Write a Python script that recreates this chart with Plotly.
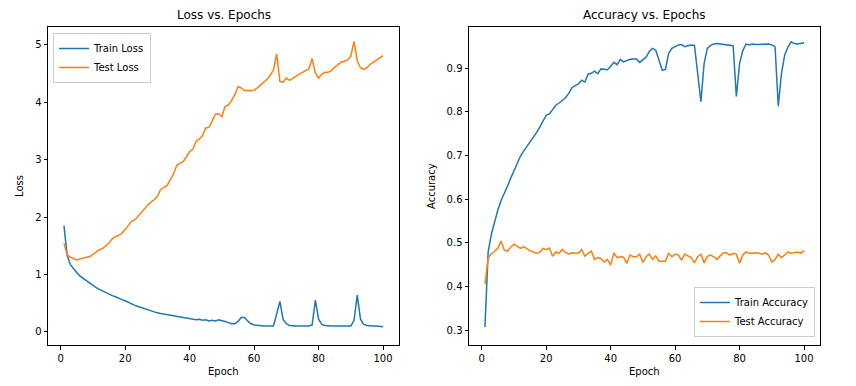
import plotly.graph_objects as go

epochs = list(range(1, 101))

train_loss = [1.85, 1.33, 1.17, 1.09, 1.03, 0.97, 0.93, 0.88, 0.84, 0.80,
              0.77, 0.74, 0.71, 0.69, 0.66, 0.63, 0.61, 0.58, 0.56, 0.54,
              0.51, 0.48, 0.46, 0.44, 0.42, 0.40, 0.38, 0.37, 0.35, 0.33,
              0.32, 0.31, 0.30, 0.29, 0.28, 0.27, 0.26, 0.25, 0.24, 0.23,
              0.23, 0.21, 0.22, 0.20, 0.21, 0.19, 0.20, 0.19, 0.21, 0.20,
              0.18, 0.16, 0.14, 0.14, 0.18, 0.25, 0.25, 0.19, 0.14, 0.12,
              0.11, 0.10, 0.10, 0.10, 0.10, 0.10, 0.31, 0.53, 0.21, 0.14,
              0.11, 0.10, 0.10, 0.10, 0.10, 0.10, 0.10, 0.12, 0.55, 0.22,
              0.13, 0.11, 0.10, 0.10, 0.10, 0.10, 0.10, 0.10, 0.10, 0.10,
              0.20, 0.64, 0.22, 0.13, 0.11, 0.10, 0.10, 0.10, 0.095, 0.09]

test_loss = [1.54, 1.34, 1.30, 1.27, 1.25, 1.27, 1.29, 1.30, 1.31, 1.35,
             1.40, 1.43, 1.45, 1.50, 1.55, 1.62, 1.66, 1.68, 1.72, 1.78,
             1.85, 1.93, 1.95, 2.02, 2.08, 2.15, 2.21, 2.26, 2.30, 2.36,
             2.48, 2.51, 2.55, 2.65, 2.75, 2.90, 2.93, 2.97, 3.05, 3.14,
             3.18, 3.32, 3.36, 3.42, 3.55, 3.56, 3.68, 3.79, 3.80, 3.75,
             3.93, 3.95, 4.03, 4.13, 4.27, 4.25, 4.20, 4.21, 4.20, 4.21,
             4.25, 4.30, 4.35, 4.40, 4.47, 4.56, 4.84, 4.36, 4.35, 4.42,
             4.38, 4.42, 4.46, 4.49, 4.52, 4.55, 4.58, 4.76, 4.51, 4.42,
             4.49, 4.52, 4.52, 4.55, 4.61, 4.65, 4.70, 4.71, 4.74, 4.80,
             5.06, 4.72, 4.60, 4.57, 4.60, 4.66, 4.70, 4.73, 4.77, 4.81]

train_acc = [0.307, 0.48, 0.52, 0.55, 0.575, 0.597, 0.612, 0.63, 0.648, 0.665,
             0.685, 0.698, 0.71, 0.72, 0.73, 0.742, 0.752, 0.765, 0.78, 0.792,
             0.795, 0.806, 0.815, 0.82, 0.827, 0.832, 0.842, 0.855, 0.86, 0.864,
             0.872, 0.868, 0.886, 0.888, 0.893, 0.887, 0.898, 0.897, 0.896, 0.904,
             0.913, 0.908, 0.92, 0.914, 0.917, 0.92, 0.921, 0.921, 0.913, 0.918,
             0.925, 0.938, 0.945, 0.941, 0.92, 0.895, 0.897, 0.934, 0.945, 0.95,
             0.953, 0.954, 0.949, 0.951, 0.953, 0.952, 0.89, 0.823, 0.911, 0.945,
             0.952, 0.955, 0.956, 0.955, 0.954, 0.953, 0.952, 0.951, 0.835, 0.911,
             0.94, 0.955, 0.953, 0.955, 0.954, 0.954, 0.955, 0.954, 0.955, 0.953,
             0.949, 0.813, 0.888, 0.93, 0.948, 0.96, 0.956, 0.955, 0.956, 0.958]

test_acc = [0.405, 0.465, 0.475, 0.48, 0.488, 0.504, 0.483, 0.481, 0.49, 0.497,
            0.492, 0.487, 0.491, 0.486, 0.482, 0.479, 0.476, 0.478, 0.487, 0.484,
            0.488, 0.469, 0.479, 0.476, 0.485, 0.478, 0.474, 0.477, 0.476, 0.476,
            0.485, 0.469, 0.476, 0.481, 0.462, 0.466, 0.464, 0.456, 0.462, 0.449,
            0.477, 0.466, 0.468, 0.467, 0.453, 0.472, 0.468, 0.468, 0.474, 0.455,
            0.468, 0.474, 0.462, 0.47, 0.458, 0.458, 0.458, 0.476, 0.468, 0.474,
            0.472, 0.46, 0.474, 0.47, 0.466, 0.454, 0.468, 0.474, 0.454, 0.469,
            0.472, 0.468, 0.462, 0.47, 0.477, 0.477, 0.472, 0.476, 0.474, 0.453,
            0.472, 0.479, 0.476, 0.476, 0.477, 0.476, 0.474, 0.477, 0.472, 0.456,
            0.462, 0.474, 0.466, 0.472, 0.479, 0.476, 0.478, 0.479, 0.476, 0.482]

x_ticks = [0, 20, 40, 60, 80, 100]
loss_ticks = [0, 1, 2, 3, 4, 5]
acc_ticks = [0.3, 0.4, 0.5, 0.6, 0.7, 0.8, 0.9]

BLUE = "#1f77b4"
ORANGE = "#ff7f0e"
W, H = 856, 386
FONT = "DejaVu Sans"

fig = go.Figure()
fig.add_trace(go.Scatter(x=epochs, y=train_loss, mode="lines", name="Train Loss",
                         line=dict(color=BLUE, width=1.5), xaxis="x", yaxis="y", legend="legend"))
fig.add_trace(go.Scatter(x=epochs, y=test_loss, mode="lines", name="Test Loss",
                         line=dict(color=ORANGE, width=1.5), xaxis="x", yaxis="y", legend="legend"))
fig.add_trace(go.Scatter(x=epochs, y=train_acc, mode="lines", name="Train Accuracy",
                         line=dict(color=BLUE, width=1.5), xaxis="x2", yaxis="y2", legend="legend2"))
fig.add_trace(go.Scatter(x=epochs, y=test_acc, mode="lines", name="Test Accuracy",
                         line=dict(color=ORANGE, width=1.5), xaxis="x2", yaxis="y2", legend="legend2"))

ydom = [1 - 345 / H, 1 - 27 / H]
axis_common = dict(showline=True, mirror=True, linecolor="black", linewidth=1,
                   ticks="outside", ticklen=3.5, tickwidth=1, tickcolor="black",
                   showgrid=False, zeroline=False,
                   tickfont=dict(family=FONT, size=10, color="black"))


def label(text, x, y, size=10, angle=0):
    return dict(text=text, x=x / W, y=1 - y / H, xref="paper", yref="paper",
                xanchor="center", yanchor="middle", textangle=angle, showarrow=False,
                font=dict(family=FONT, size=size, color="black"))


fig.update_layout(
    width=W, height=H,
    margin=dict(l=0, r=0, t=0, b=0),
    paper_bgcolor="white", plot_bgcolor="white",
    font=dict(family=FONT, size=10, color="black"),
    xaxis=dict(domain=[48 / W, 399 / W], range=[-3.95, 104.95], tickvals=x_ticks,
               anchor="y", **axis_common),
    yaxis=dict(domain=ydom, range=[-0.23, 5.31], tickvals=loss_ticks,
               anchor="x", **axis_common),
    xaxis2=dict(domain=[469 / W, 820 / W], range=[-3.95, 104.95], tickvals=x_ticks,
                anchor="y2", **axis_common),
    yaxis2=dict(domain=ydom, range=[0.266, 0.994], tickvals=acc_ticks,
                ticktext=[f"{v:.1f}" for v in acc_ticks], anchor="x2", **axis_common),
    legend=dict(x=53 / W, y=1 - 33 / H, xanchor="left", yanchor="top",
                bgcolor="rgba(255,255,255,0.8)", bordercolor="#cccccc", borderwidth=1,
                font=dict(family=FONT, size=10, color="black"), tracegroupgap=0),
    legend2=dict(x=815 / W, y=1 - 337 / H, xanchor="right", yanchor="bottom",
                 bgcolor="rgba(255,255,255,0.8)", bordercolor="#cccccc", borderwidth=1,
                 font=dict(family=FONT, size=10, color="black"), tracegroupgap=0),
    annotations=[
        label("Loss vs. Epochs", (48 + 399) / 2, 15, size=12),
        label("Accuracy vs. Epochs", (469 + 820) / 2, 15, size=12),
        label("Epoch", (48 + 399) / 2, 371),
        label("Epoch", (469 + 820) / 2, 371),
        label("Loss", 20, 186, angle=-90),
        label("Accuracy", 432, 186, angle=-90),
    ],
)

fig.write_html("out.html", config={"displayModeBar": False},
               post_script="document.body.style.margin='0';document.body.style.overflow='hidden';")
